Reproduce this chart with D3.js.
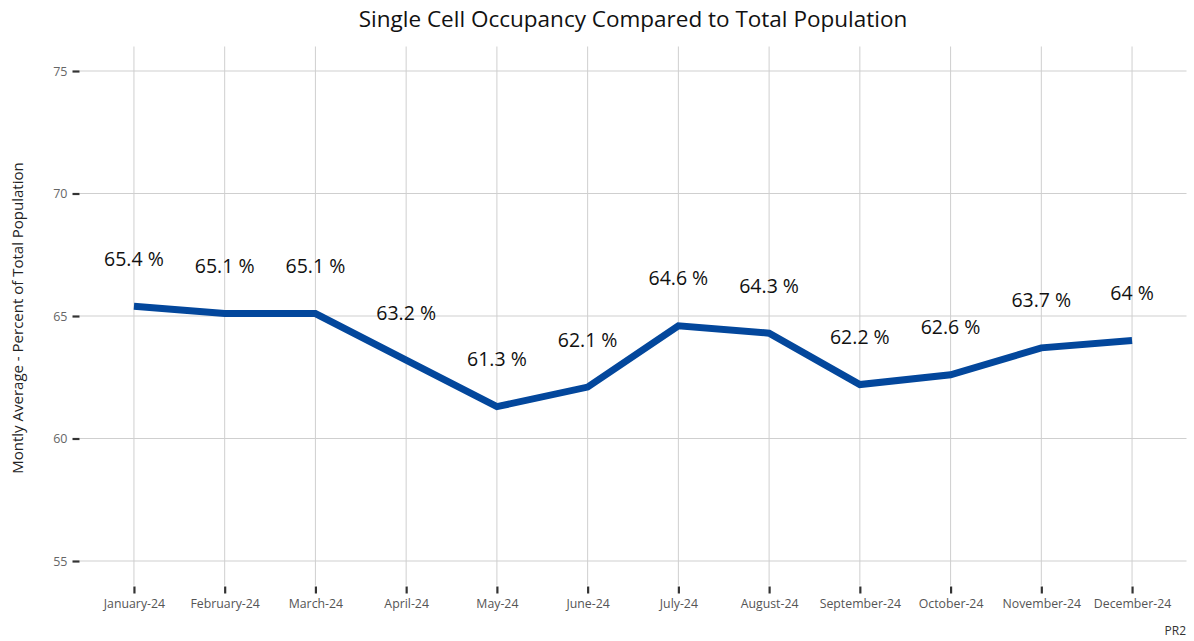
<!DOCTYPE html>
<html>
<head>
<meta charset="utf-8">
<script src="https://cdn.jsdelivr.net/npm/d3@7"></script>
<style>
  html, body { margin: 0; padding: 0; background: #fff; }
  svg { display: block; font-family: "Open Sans", "Noto Sans", sans-serif; }
</style>
</head>
<body>
<svg id="chart" width="1194" height="641"></svg>
<script>
const months = ["January-24","February-24","March-24","April-24","May-24","June-24",
                "July-24","August-24","September-24","October-24","November-24","December-24"];
const occupancy = [65.4, 65.1, 65.1, 63.2, 61.3, 62.1, 64.6, 64.3, 62.2, 62.6, 63.7, 64];
const valueLabels = ["65.4 %","65.1 %","65.1 %","63.2 %","61.3 %","62.1 %","64.6 %","64.3 %","62.2 %","62.6 %","63.7 %","64 %"];
const yTicks = [55, 60, 65, 70, 75];
const titleText = "Single Cell Occupancy Compared to Total Population";
const yTitleText = "Montly Average  - Percent of Total Population";
const captionText = "PR2";

const svg = d3.select("#chart");
const panel = {left: 79.5, right: 1186.5, top: 46.5, bottom: 585.5};

const x = d3.scalePoint().domain(months).range([panel.left, panel.right]).padding(0.6);
const y = d3.scaleLinear().domain([54, 76]).range([panel.bottom, panel.top]);

// gridlines
const g = svg.append("g");
g.selectAll("line.hgrid").data(yTicks).join("line")
  .attr("x1", panel.left).attr("x2", panel.right)
  .attr("y1", d => y(d)).attr("y2", d => y(d))
  .attr("stroke", "#cfcfcf").attr("stroke-width", 1);
g.selectAll("line.vgrid").data(months).join("line")
  .attr("x1", d => x(d)).attr("x2", d => x(d))
  .attr("y1", panel.top).attr("y2", panel.bottom)
  .attr("stroke", "#cfcfcf").attr("stroke-width", 1);

// axes
const yAxis = d3.axisLeft(y).tickValues(yTicks).tickSize(7).tickPadding(5);
const yg = svg.append("g").attr("transform", `translate(${panel.left},0)`).call(yAxis);
yg.select(".domain").remove();
yg.selectAll(".tick line").attr("stroke", "#333").attr("stroke-width", 2.2);
yg.selectAll(".tick text").attr("fill", "#666").style("font-size", "12.5px").style("font-family", "Open Sans");

const xAxis = d3.axisBottom(x).tickSize(7).tickPadding(6);
const xg = svg.append("g").attr("transform", `translate(0,${panel.bottom + 1})`).call(xAxis);
xg.select(".domain").remove();
xg.selectAll(".tick line").attr("stroke", "#333").attr("stroke-width", 2.2);
xg.selectAll(".tick text").attr("fill", "#555").style("font-size", "12.3px").style("font-family", "Open Sans");

// line
const data = months.map((m, i) => ({m, v: occupancy[i], label: valueLabels[i]}));
svg.append("path").datum(data)
  .attr("fill", "none").attr("stroke", "#03479c").attr("stroke-width", 7)
  .attr("stroke-linejoin", "miter")
  .attr("d", d3.line().x(d => x(d.m)).y(d => y(d.v)));

// value labels
svg.selectAll("text.vlab").data(data).join("text")
  .attr("class", "vlab")
  .attr("x", d => x(d.m)).attr("y", d => y(d.v) - 48)
  .attr("text-anchor", "middle").attr("dominant-baseline", "central")
  .attr("fill", "#111").style("font-size", "19.5px")
  .text(d => d.label);

// title
svg.append("text").attr("x", (panel.left + panel.right) / 2).attr("y", 18)
  .attr("text-anchor", "middle").attr("dominant-baseline", "central")
  .attr("fill", "#111").style("font-size", "22.5px").text(titleText);

// y title
svg.append("text")
  .attr("transform", `translate(17,${(panel.top + panel.bottom) / 2 + 2}) rotate(-90)`)
  .attr("text-anchor", "middle").attr("dominant-baseline", "central")
  .attr("fill", "#222").style("font-size", "15px").text(yTitleText);

// caption
svg.append("text").attr("x", 1186).attr("y", 630)
  .attr("text-anchor", "end").attr("dominant-baseline", "central")
  .attr("fill", "#333").style("font-size", "12px").text(captionText);
</script>
</body>
</html>
